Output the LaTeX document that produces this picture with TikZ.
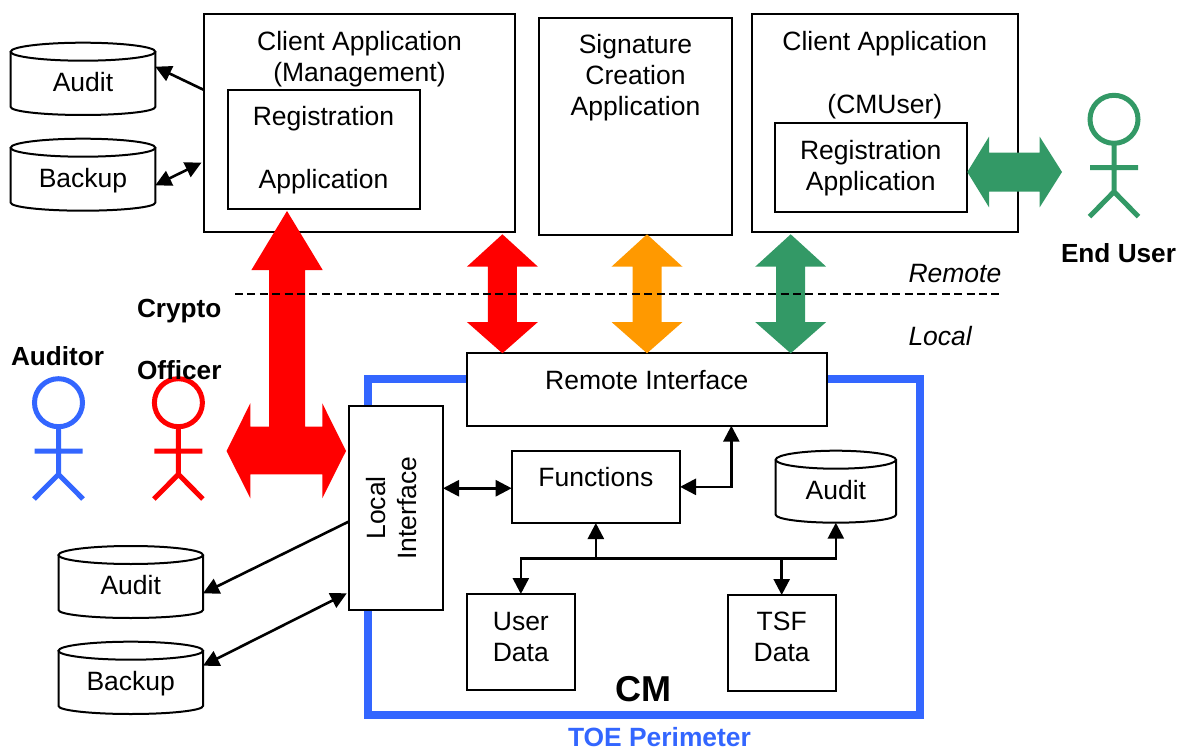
\documentclass[tikz,border=0pt]{standalone}
\usepackage{fontspec}
\setmainfont{Liberation Sans}
\usetikzlibrary{arrows.meta}
\definecolor{toeblue}{HTML}{3366FF}
\definecolor{ared}{HTML}{FF0000}
\definecolor{aorange}{HTML}{FF9900}
\definecolor{agreen}{HTML}{339966}
\tikzset{
  txt/.style={font=\fontsize{26.5}{31}\selectfont},
  boxstyle/.style={draw=black,line width=2pt,fill=white,inner sep=0pt,outer sep=0pt,txt},
  drumtext/.style={inner sep=0pt,outer sep=0pt,txt},
  drumline/.style={draw=black,line width=2pt,fill=white},
  conn/.style={line width=2.6pt,draw=black,{Triangle[length=16pt,width=16pt]}-{Triangle[length=16pt,width=16pt]}},
  conn1/.style={line width=2.6pt,draw=black,-{Triangle[length=16pt,width=16pt]}},
  lbl/.style={anchor=base west,inner sep=0pt,outer sep=0pt,txt},
  lblb/.style={lbl,font=\fontsize{26.2}{31}\selectfont\bfseries},
  perimeter/.style={draw=toeblue,line width=7.7pt},
  head/.style={circle,draw=#1,line width=5pt,minimum size=48pt,inner sep=0pt,outer sep=0pt},
  limb/.style={draw=#1,line width=5pt},
  divider/.style={draw=black,line width=2pt,dash pattern=on 8pt off 4.4pt}
}
\newcommand{\labbox}[7]{%
  \pgfmathsetmacro\bw{#4-#2}\pgfmathsetmacro\bh{#5-#3}%
  \node[boxstyle] (#1) at ({(#2+#4)/2},{(#3+#5)/2})
    {\parbox[c][\bh pt][t]{\bw pt}{\centering\rule{0pt}{\dimexpr #6pt+1pt\relax}#7}};}
\newcommand{\drum}[7]{%
  \pgfmathsetmacro\bw{#4-#2}\pgfmathsetmacro\bh{#5-#3}\pgfmathsetmacro\brx{(#4-#2)/2}%
  \draw[drumline] (#2,#3+9) -- (#2,#5-8) arc[start angle=180,end angle=360,x radius=\brx pt,y radius=8pt] -- (#4,#3+9);
  \draw[drumline] ({(#2+#4)/2},#3+9) ellipse[x radius=\brx pt,y radius=9pt];
  \node[drumtext] (#1) at ({(#2+#4)/2},{(#3+#5)/2})
    {\parbox[c][\bh pt][t]{\bw pt}{\centering\rule{0pt}{\dimexpr #6pt+1pt\relax}#7}};}
\newcommand{\stick}[7]{% name, colour, cx, cy, arm y, hip y, foot y
  \node[head=#2] (#1) at (#3,#4) {};
  \draw[limb=#2] (#1.south) -- (#3,#6) (#3-24,#5) -- (#3+24,#5)
     (#3-24.5,#7) -- (#3,#6) -- (#3+24.5,#7);}
\newcommand{\vdouble}[2]{% colour, centre x
  \fill[#1] (#2,234.3) -- (#2+35.5,266.7) -- (#2+14.5,266.7) -- (#2+14.5,322) -- (#2+35.5,322)
    -- (#2,353.3) -- (#2-35.5,322) -- (#2-14.5,322) -- (#2-14.5,266.7) -- (#2-35.5,266.7) -- cycle;}
\begin{document}
\begin{tikzpicture}[x=1pt,y=-1pt]
\useasboundingbox (0,0) rectangle (1179,749);
% perimeter
\draw[perimeter] (368,379) rectangle (920,715);
% top boxes
\labbox{mgmt}{204}{14}{515}{232}{36}{Client Application\\(Management)}
\labbox{regm}{227.5}{89.7}{419.5}{209}{35.3}{Registration\\[32pt]Application}
\labbox{sig}{539}{18}{732}{235}{35}{Signature\\Creation\\Application}
\labbox{cuser}{751.7}{14}{1018}{232}{36}{Client Application\\[32pt](CMUser)}
\labbox{regu}{774.5}{123}{967}{212}{35.7}{Registration\\Application}
% storage
\drum{auditup}{10.7}{42.7}{155.3}{115}{48}{Audit}
\drum{backupup}{10.7}{138.7}{155.3}{210.7}{48}{Backup}
\drum{auditlow}{58.5}{546}{203}{618}{47.3}{Audit}
\drum{backuplow}{58.5}{641.7}{203}{714}{47.6}{Backup}
\drum{auditin}{775.7}{450.7}{896}{522.7}{48}{Audit}
% CM boxes
\labbox{remote}{466.7}{353}{827}{425.7}{35}{Remote Interface}
\node[boxstyle] (localif) at (395.75,508)
  {\rotatebox{90}{\parbox[c][94.5pt][t]{204pt}{\centering\rule{0pt}{36.5pt}Local\\Interface}}};
\labbox{func}{511.7}{450.7}{680}{523}{35}{Functions}
\labbox{userd}{466.7}{594}{575}{690}{35.3}{User\\Data}
\labbox{tsfd}{727.7}{595}{835.7}{690.7}{34}{TSF\\Data}
% thick arrows
\fill[ared] (287,211) -- (322.7,270) -- (305,270) -- (305,426.7) -- (322.3,426.7) -- (322.3,403.3)
  -- (346,451) -- (322.3,498.3) -- (322.3,474.3) -- (250.3,474.3) -- (250.3,498.3) -- (226.6,451)
  -- (250.3,403.3) -- (250.3,426.7) -- (269,426.7) -- (269,270) -- (251.4,270) -- cycle;
\vdouble{ared}{502.4}
\vdouble{aorange}{647}
\vdouble{agreen}{790.7}
\fill[agreen] (967.3,172) -- (989,136.7) -- (989,152.7) -- (1039.7,152.7) -- (1039.7,136.7) -- (1062,172)
  -- (1039.7,207.3) -- (1039.7,191.7) -- (989,191.7) -- (989,207.3) -- cycle;
% remote/local divider
\coordinate (divl) at (235,294);
\coordinate (divr) at (1000,294);
\draw[divider] (divl) -- (divr);
% thin connectors
\draw[conn1] ([yshift=33pt]mgmt.west) -- ([yshift=12.15pt]auditup.east);
\draw[conn] ([yshift=-10.6pt]backupup.east) -- ([xshift=-2.6pt,yshift=-39.7pt]mgmt.west);
\draw[conn1] ([yshift=-13.7pt]localif.west) -- ([yshift=-11.3pt]auditlow.east);
\draw[conn] ([yshift=12.15pt]backuplow.east) -- ([xshift=-1.7pt,yshift=-85.3pt]localif.west);
\draw[conn] ([yshift=-1.4pt]localif.east |- func.west) -- ([yshift=-1.4pt]func.west);
\draw[conn] (func.east) -| ([xshift=84.5pt]remote.south);
\coordinate (bus) at (func.south |- 0,558.7);
\draw[conn1] (bus) -- (func.south);
\draw[conn1] (bus) -| (userd.north);
\draw[conn1] (bus) -| (tsfd.north);
\draw[conn1] (bus) -| (auditin.south);
% people
\stick{pauditor}{toeblue}{58.5}{402.7}{451}{474.3}{499}
\stick{pcrypto}{ared}{178.4}{402.7}{451}{474.3}{499}
\stick{pend}{agreen}{1114}{119.3}{167.7}{191.7}{216.7}
% labels
\node[lblb] (tauditor) at (11,365) {Auditor};
\node[lblb] (tcrypto) at (137,317.7) {\parbox[t]{100pt}{Crypto\\[31pt]Officer}};
\node[lblb] (tend) at (1061,262.7) {End User};
\node[lbl,font=\fontsize{26.5}{31}\selectfont\itshape] (tremote) at (908.5,282.7) {Remote};
\node[lbl,font=\fontsize{26.5}{31}\selectfont\itshape] (tlocal) at (908.5,345.3) {Local};
\node[lbl,font=\fontsize{36}{40}\selectfont\bfseries] (tcm) at (615.7,701.7) {CM};
\node[lblb,font=\fontsize{26.4}{31}\selectfont\bfseries,text=toeblue] (ttoe) at (568,746) {TOE Perimeter};
\end{tikzpicture}
\end{document}
